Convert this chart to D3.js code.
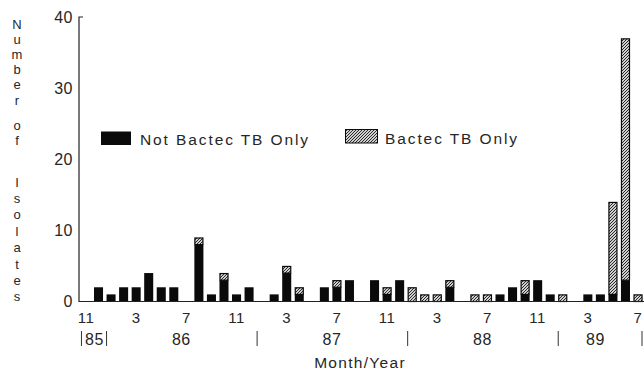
<!DOCTYPE html>
<html>
<head>
<meta charset="utf-8">
<script src="https://cdn.jsdelivr.net/npm/d3@7"></script>
<style>
  body { margin: 0; background: #fff; }
  text { font-family: "Liberation Sans", Arial, sans-serif; fill: #262626; }
</style>
</head>
<body>
<div id="chart"></div>
<script>
// months Nov 1985 .. Jul 1989
var months = ["11/85","12/85","1/86","2/86","3/86","4/86","5/86","6/86","7/86","8/86","9/86","10/86","11/86","12/86",
              "1/87","2/87","3/87","4/87","5/87","6/87","7/87","8/87","9/87","10/87","11/87","12/87",
              "1/88","2/88","3/88","4/88","5/88","6/88","7/88","8/88","9/88","10/88","11/88","12/88",
              "1/89","2/89","3/89","4/89","5/89","6/89","7/89"];
var notBactec = [0,2,1,2,2,4,2,2,0,8,1,3,1,2, 0,1,4,1,0,2,2,3,0,3,1,3, 0,0,0,2,0,0,0,1,2,1,3,1, 0,0,1,1,1,3,0];
var bactecOnly = [0,0,0,0,0,0,0,0,0,1,0,1,0,0, 0,0,1,1,0,0,1,0,0,0,1,0, 2,1,1,1,0,1,1,0,0,2,0,0, 1,0,0,0,13,34,1];
var monthTicks = ["11/85","3/86","7/86","11/86","3/87","7/87","11/87","3/88","7/88","11/88","3/89","7/89"];
var yearLabels = ["85","86","87","88","89"];
var yearCenters = ["12/85","7/86","7/87","7/88","4/89"];
var yearBreaks = ["11/85","1/86","1/87","1/88","1/89"];
var yTicks = [0,10,20,30,40];
var seriesNames = ["Not Bactec TB Only","Bactec TB Only"];

var fullwidth = 644, fullheight = 370;

var svg = d3.select("#chart").append("svg")
    .attr("width", fullwidth)
    .attr("height", fullheight);

var defs = svg.append("defs");
var pat = defs.append("pattern")
    .attr("id", "hatch")
    .attr("patternUnits", "userSpaceOnUse")
    .attr("width", 3).attr("height", 3);
pat.append("rect").attr("width", 3).attr("height", 3).attr("fill", "#cfcfcf");
pat.append("path").attr("d", "M0,3 L3,0 M-1,1 L1,-1 M2,4 L4,2")
    .attr("stroke", "#2a2a2a").attr("stroke-width", 1);

var xScale = d3.scaleBand()
    .domain(months)
    .range([79.7, 644.3])
    .paddingInner(0.28)
    .paddingOuter(0.14);

var yScale = d3.scaleLinear()
    .domain([0, 40])
    .range([301.5, 17]);

var data = months.map(function(m, i) {
    return {month: m, black: notBactec[i], hatch: bactecOnly[i]};
});

// bars
var g = svg.append("g");
g.selectAll("rect.black")
    .data(data.filter(function(d) { return d.black > 0; }))
    .enter().append("rect")
    .attr("class", "black")
    .attr("x", function(d) { return xScale(d.month); })
    .attr("width", xScale.bandwidth())
    .attr("y", function(d) { return yScale(d.black); })
    .attr("height", function(d) { return yScale(0) - yScale(d.black); })
    .attr("fill", "#0a0a0a");

g.selectAll("rect.hatch")
    .data(data.filter(function(d) { return d.hatch > 0; }))
    .enter().append("rect")
    .attr("class", "hatch")
    .attr("x", function(d) { return xScale(d.month) + 0.5; })
    .attr("width", xScale.bandwidth() - 1)
    .attr("y", function(d) { return yScale(d.black + d.hatch) + 0.5; })
    .attr("height", function(d) { return yScale(d.black) - yScale(d.black + d.hatch) - 0.5; })
    .attr("fill", "url(#hatch)")
    .attr("stroke", "#0a0a0a")
    .attr("stroke-width", 1.2);

// y axis
var x0 = 79;
svg.append("path")
    .attr("d", "M" + (x0 + 4) + "," + yScale(40) + "H" + x0 + "V" + yScale(0) + "H644")
    .attr("fill", "none")
    .attr("stroke", "#222")
    .attr("stroke-width", 1.2);

svg.selectAll("text.ytick")
    .data(yTicks)
    .enter().append("text")
    .attr("class", "ytick")
    .attr("x", 73)
    .attr("y", function(d) { return yScale(d); })
    .attr("dy", "0.36em")
    .attr("text-anchor", "end")
    .style("font-size", "16px")
    .style("letter-spacing", "0.5px")
    .text(function(d) { return d; });

// y title, stacked letters
var words = ["Number", "of", "Isolates"];
var wordStart = [24, 125, 182];
var wordStep = [15.2, 15.2, 16.4];
var ypos = [];
words.forEach(function(w, k) {
    w.split("").forEach(function(c, i) {
        ypos.push({c: c, y: wordStart[k] + i * wordStep[k]});
    });
});
svg.selectAll("text.ytitle")
    .data(ypos)
    .enter().append("text")
    .attr("class", "ytitle")
    .attr("x", 17)
    .attr("y", function(d) { return d.y; })
    .attr("dy", "0.36em")
    .attr("text-anchor", "middle")
    .style("font-size", "13px")
    .text(function(d) { return d.c; });

// month ticks
svg.selectAll("text.mtick")
    .data(monthTicks)
    .enter().append("text")
    .attr("class", "mtick")
    .attr("x", function(d) { return xScale(d) + xScale.bandwidth() / 2; })
    .attr("y", 318)
    .attr("dy", "0.36em")
    .attr("text-anchor", "middle")
    .style("font-size", "15px")
    .style("letter-spacing", "0.5px")
    .text(function(d) { return d.split("/")[0]; });

// year labels and separators
svg.selectAll("text.year")
    .data(yearLabels)
    .enter().append("text")
    .attr("class", "year")
    .attr("x", function(d, i) {
        var c = xScale(yearCenters[i]) + xScale.bandwidth() / 2;
        return i === 0 ? c - 4 : c - 5;
    })
    .attr("y", 339)
    .attr("dy", "0.36em")
    .attr("text-anchor", "middle")
    .style("font-size", "16px")
    .style("letter-spacing", "0.5px")
    .text(function(d) { return d; });

svg.selectAll("line.ybreak")
    .data(yearBreaks)
    .enter().append("line")
    .attr("class", "ybreak")
    .attr("x1", function(d) { return xScale(d); })
    .attr("x2", function(d) { return xScale(d); })
    .attr("y1", 331).attr("y2", 346)
    .attr("stroke", "#333")
    .attr("stroke-width", 1);

svg.append("line")
    .attr("x1", 642).attr("x2", 642)
    .attr("y1", 331).attr("y2", 346)
    .attr("stroke", "#333");

svg.append("text")
    .attr("x", 360)
    .attr("y", 362)
    .attr("dy", "0.36em")
    .attr("text-anchor", "middle")
    .style("font-size", "15.5px")
    .style("letter-spacing", "1.3px")
    .text("Month/Year");

// legend
var legend = svg.append("g");
legend.append("rect")
    .attr("x", 101).attr("y", 131.5)
    .attr("width", 30).attr("height", 13.5)
    .attr("fill", "#0a0a0a");
legend.append("text")
    .attr("x", 140).attr("y", 144.5)
    .style("font-size", "15.5px")
    .style("letter-spacing", "1.9px")
    .text(seriesNames[0]);
legend.append("rect")
    .attr("x", 345.5).attr("y", 129.5)
    .attr("width", 32).attr("height", 13.5)
    .attr("fill", "url(#hatch)")
    .attr("stroke", "#0a0a0a")
    .attr("stroke-width", 1);
legend.append("text")
    .attr("x", 385).attr("y", 143.5)
    .style("font-size", "15.5px")
    .style("letter-spacing", "1.9px")
    .text(seriesNames[1]);
</script>
</body>
</html>
